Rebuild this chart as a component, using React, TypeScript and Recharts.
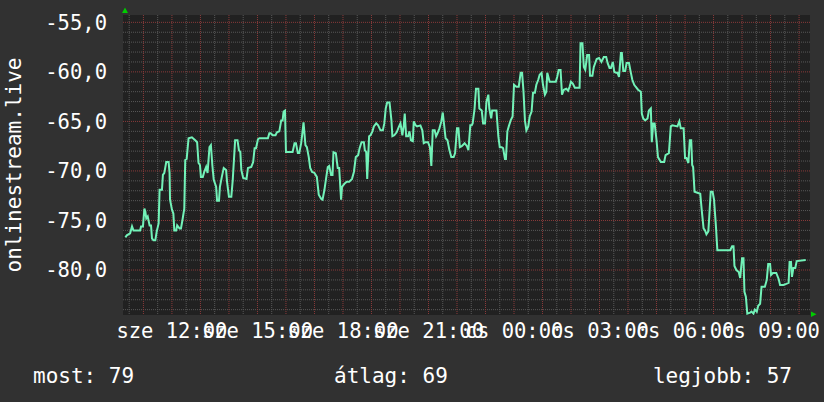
import { LineChart, Line, XAxis, YAxis, CartesianGrid } from "recharts";

// minutes since "sze" 00:00
const TIMES = [
  622, 625, 632, 636, 639, 653, 655, 659, 662, 664, 666, 669, 673, 676, 678, 681, 685, 688, 692, 694,
  699, 701, 704, 708, 713, 715, 716, 720, 723, 725, 729, 731, 736, 739, 742, 746, 748, 751, 755, 762,
  769, 773, 776, 779, 781, 785, 788, 792, 795, 799, 802, 805, 808, 813, 815, 819, 821, 825, 829, 834,
  836, 840, 845, 848, 853, 858,
  861, 864, 866, 870, 877, 880, 887, 891, 894, 897, 901, 904, 922, 925, 928, 932, 938, 941, 946, 950,
  953, 955, 958, 960, 974, 978, 981, 985, 988, 992, 994, 997, 1001, 1004, 1008, 1011, 1015, 1020, 1025, 1029,
  1034, 1037, 1041, 1044, 1048, 1051, 1055, 1058, 1060, 1065, 1069, 1072, 1076, 1078, 1083, 1088, 1093, 1099,
  1103, 1107, 1112, 1115, 1119, 1124, 1126, 1129, 1131, 1135, 1138, 1142, 1145, 1150, 1154, 1159, 1164, 1167, 1170, 1173,
  1178, 1182, 1184, 1188, 1193, 1198, 1201, 1205, 1208, 1210, 1213, 1217, 1220, 1223, 1227, 1229, 1233, 1236, 1243, 1247,
  1250, 1254, 1259, 1263, 1266, 1269, 1273, 1276, 1279, 1283, 1287, 1290, 1293, 1296, 1300, 1304, 1308, 1313, 1316, 1320,
  1323, 1326, 1330, 1336, 1341, 1344, 1348, 1351,
  1353, 1357, 1360, 1365, 1367, 1372, 1375, 1379, 1382, 1386, 1388, 1392, 1394, 1398, 1403, 1407, 1410, 1414, 1417, 1421,
  1423, 1426, 1429, 1433, 1437, 1440, 1445, 1450, 1454, 1457, 1460, 1463, 1466, 1470, 1473, 1477, 1480, 1484, 1487, 1491,
  1494, 1498, 1501, 1505, 1508, 1510, 1515, 1528, 1531, 1534, 1538, 1541, 1545, 1550, 1554, 1557, 1560, 1564, 1568, 1578,
  1580, 1584, 1587, 1590,
  1594, 1598, 1600, 1605, 1608, 1614, 1619, 1624, 1629, 1634, 1637, 1641, 1644, 1648, 1651, 1655, 1658, 1661, 1665, 1667,
  1670, 1674, 1677, 1682, 1686, 1689, 1693, 1696, 1701, 1707, 1709, 1712, 1716, 1721, 1724, 1728, 1730, 1733, 1736, 1740,
  1743, 1749, 1756, 1759, 1766, 1770, 1773, 1784, 1788, 1791, 1797, 1800, 1803, 1807, 1810, 1813, 1815, 1817, 1820, 1832,
  1835, 1839, 1842, 1845, 1849, 1851, 1854, 1858, 1861, 1865, 1868, 1895, 1899, 1902, 1904, 1908, 1913, 1916, 1920, 1923,
  1925, 1928, 1931, 1937, 1940, 1944, 1947, 1951, 1954, 1958, 1961, 1968, 1972, 1975, 1979, 1981, 1985, 1992, 1997, 2000,
  2007, 2013, 2018, 2020, 2023, 2025, 2028, 2032, 2035, 2054,
];

const VALUES = [
  -76.7, -76.5, -76.3, -75.6, -76.0, -76.0, -75.6, -75.6, -73.8, -74.1, -74.8, -74.6, -75.5, -75.5, -76.8, -77.0, -77.0, -76.1, -75.3, -71.9,
  -71.9, -70.4, -70.2, -69.1, -69.1, -70.2, -72.9, -73.9, -74.3, -76.0, -76.0, -75.5, -75.8, -75.8, -75.0, -73.8, -68.9, -68.8, -66.7, -66.6,
  -66.9, -67.1, -69.2, -69.4, -70.6, -70.6, -70.1, -69.6, -70.2, -67.6, -67.4, -69.4, -70.9, -71.6, -73.0, -73.0, -71.6, -70.6, -69.7, -69.9,
  -71.1, -72.6, -72.6, -70.9, -66.9, -66.9,
  -67.9, -68.1, -69.9, -70.7, -70.8, -69.7, -69.6, -69.1, -67.7, -67.7, -66.8, -66.7, -66.7, -66.2, -66.2, -66.4, -66.4, -66.1, -66.0, -64.9,
  -64.9, -64.0, -63.9, -68.1, -68.1, -67.2, -67.2, -68.2, -68.2, -67.2, -66.4, -65.1, -67.4, -67.6, -68.6, -69.7, -70.1, -70.2, -70.6, -72.4,
  -72.8, -72.9, -71.9, -70.9, -69.6, -69.5, -70.4, -70.4, -68.1, -68.2, -69.7, -69.7, -72.9, -71.6, -71.3, -71.1, -71.1, -70.8,
  -70.1, -68.6, -68.4, -67.7, -67.1, -67.1, -67.9, -68.1, -70.8, -66.5, -66.4, -66.0, -65.5, -65.2, -65.4, -65.9, -65.9, -65.2, -63.7, -63.1,
  -63.1, -64.9, -66.5, -66.4, -66.1, -65.5, -65.2, -66.4, -65.4, -64.2, -66.5, -66.5, -66.0, -66.9, -67.0, -65.0, -65.4, -65.5, -65.4, -65.9,
  -67.2, -67.1, -67.1, -67.6, -69.5, -65.9, -65.9, -66.5, -66.2, -65.7, -65.0, -64.1, -65.4, -66.7, -66.9, -67.9, -68.6, -68.6, -68.2, -65.7,
  -65.7, -67.6, -67.5, -67.2, -67.5, -67.9, -65.4, -65.4,
  -65.2, -63.7, -61.7, -61.7, -63.7, -63.9, -65.2, -65.2, -63.0, -62.3, -63.7, -64.7, -63.9, -63.9, -63.9, -66.5, -67.6, -67.6, -67.7, -68.8,
  -68.8, -66.0, -65.5, -64.9, -64.5, -61.3, -61.5, -61.5, -60.1, -60.1, -62.0, -64.9, -65.9, -65.5, -64.5, -64.0, -62.1, -62.1, -61.3, -60.8,
  -60.3, -60.1, -61.3, -62.3, -62.0, -60.1, -61.0, -61.0, -60.5, -59.8, -59.8, -62.3, -61.8, -61.7, -61.9, -61.5, -61.0, -61.2, -61.6, -61.6,
  -57.1, -57.1, -59.5, -59.8,
  -58.3, -58.3, -60.4, -60.4, -59.5, -58.7, -58.6, -59.0, -58.5, -58.5, -59.1, -59.6, -59.6, -59.0, -60.0, -60.1, -60.1, -60.5, -58.1, -58.1,
  -59.9, -59.9, -59.1, -59.1, -60.1, -60.8, -61.3, -61.5, -61.8, -62.0, -64.2, -64.7, -64.9, -64.7, -63.9, -63.7, -67.1, -65.2, -65.2, -66.9,
  -68.6, -69.1, -69.1, -68.4, -68.2, -65.5, -65.4, -65.5, -65.0, -65.7, -65.7, -68.7, -68.7, -69.2, -66.9, -66.9, -69.4, -69.6, -72.1, -72.3,
  -73.9, -75.8, -76.0, -76.4, -76.1, -74.6, -72.1, -72.1, -72.9, -75.6, -78.0, -78.0, -77.6, -77.6, -79.6, -80.0, -80.2, -80.8, -78.8, -78.8,
  -82.2, -82.7, -84.4, -84.3, -84.2, -84.4, -84.0, -84.2, -83.6, -83.4, -81.7, -81.7, -81.0, -79.4, -79.4, -80.5, -80.3, -80.3, -80.9, -81.5,
  -81.5, -81.4, -81.3, -79.2, -79.2, -80.7, -79.8, -79.8, -79.1, -79.0,
];

const X_TICKS = [720, 900, 1080, 1260, 1440, 1620, 1800, 1980];
const X_TICK_LABELS = [
  "sze 12:00", "sze 15:00", "sze 18:00", "sze 21:00",
  "cs 00:00", "cs 03:00", "cs 06:00", "cs 09:00",
];
const Y_TICKS = [-80, -75, -70, -65, -60, -55];
const Y_TITLE = "onlinestream.live";
const LEGEND_LABELS = ["most", "átlag", "legjobb"];
const LEGEND_VALUES = [79, 69, 57];

const X_DOMAIN = [617, 2063];
const Y_DOMAIN = [-84.54, -54.26];

const data = TIMES.map((t, i) => ({ t, v: VALUES[i] }));

// grid: dotted grey every 30 min / 1 unit, dotted red every hour / 5 units
const majorX: number[] = [];
const minorX: number[] = [];
for (let m = 600; m <= X_DOMAIN[1]; m += 30) {
  if (m < X_DOMAIN[0]) continue;
  if (m % 60 === 0) majorX.push(m);
  else minorX.push(m);
}
const minorY: number[] = [];
for (let v = -84; v <= -55; v++) {
  if (v % 5 !== 0) minorY.push(v);
}

const FONT = "DejaVu Sans Mono";
const tickStyle = { fill: "#ffffff", fontSize: 20.5, fontFamily: FONT };

export default function App() {
  return (
    <div
      style={{
        position: "absolute",
        left: 0,
        top: 0,
        width: 824,
        height: 402,
        background: "#313131",
        fontFamily: FONT,
      }}
    >
      <LineChart
        width={824}
        height={402}
        data={data}
        margin={{ top: 15, right: 14, left: 0, bottom: 57 }}
      >
        <CartesianGrid
          fill="#212121"
          stroke="#585858"
          strokeDasharray="1 1"
          verticalValues={minorX}
          horizontalValues={minorY}
        />
        <CartesianGrid
          stroke="#8a3a3a"
          strokeDasharray="1 1"
          verticalValues={majorX}
          horizontalValues={Y_TICKS}
        />
        <XAxis
          dataKey="t"
          type="number"
          domain={X_DOMAIN}
          allowDataOverflow
          ticks={X_TICKS}
          interval={0}
          tickFormatter={(m) => X_TICK_LABELS[X_TICKS.indexOf(m)]}
          axisLine={false}
          tickLine={false}
          tickSize={0}
          tickMargin={8}
          height={30}
          tick={tickStyle}
        />
        <YAxis
          type="number"
          domain={Y_DOMAIN}
          allowDataOverflow
          ticks={Y_TICKS}
          interval={0}
          tickFormatter={(v) => v.toFixed(1).replace(".", ",")}
          axisLine={false}
          tickLine={false}
          tickSize={0}
          tickMargin={16}
          width={123}
          tick={tickStyle}
        />
        <Line
          type="linear"
          dataKey="v"
          stroke="#72f2b8"
          strokeWidth={2}
          dot={false}
          isAnimationActive={false}
        />
      </LineChart>
      <svg
        width={824}
        height={402}
        style={{ position: "absolute", left: 0, top: 0, pointerEvents: "none" }}
      >
        <text
          transform="rotate(-90)"
          x={-165}
          y={21}
          textAnchor="middle"
          fill="#ffffff"
          fontSize={21}
          fontFamily={FONT}
        >
          {Y_TITLE}
        </text>
        <polygon points="122,13 128,13 125,7.5" fill="#00cc00" />
        <polygon points="811,311.5 811,317 816.5,314.25" fill="#00cc00" />
        <text x={33} y={383} fill="#ffffff" fontSize={21} fontFamily={FONT}>
          {`${LEGEND_LABELS[0]}: ${LEGEND_VALUES[0]}`}
        </text>
        <text x={334} y={383} fill="#ffffff" fontSize={21} fontFamily={FONT}>
          {`${LEGEND_LABELS[1]}: ${LEGEND_VALUES[1]}`}
        </text>
        <text
          x={792}
          y={383}
          textAnchor="end"
          fill="#ffffff"
          fontSize={21}
          fontFamily={FONT}
        >
          {`${LEGEND_LABELS[2]}: ${LEGEND_VALUES[2]}`}
        </text>
      </svg>
    </div>
  );
}
